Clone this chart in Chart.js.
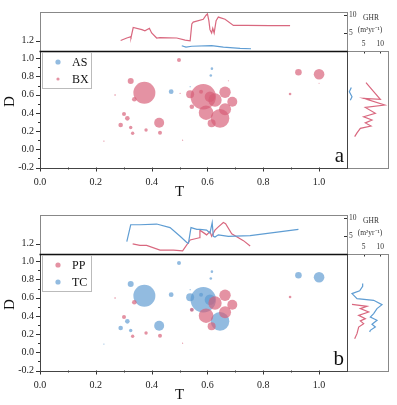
<!DOCTYPE html>
<html><head><meta charset="utf-8">
<script src="https://cdn.jsdelivr.net/npm/chart.js@4"></script>
<style>
html,body{margin:0;padding:0;background:#fff;width:397px;height:405px;overflow:hidden}
canvas{position:absolute;left:0}
</style></head><body>
<canvas id="aTop" width="397" height="200" style="top:0px"></canvas>
<canvas id="aRight" width="397" height="200" style="top:0px"></canvas>
<canvas id="aMain" width="397" height="200" style="top:0px"></canvas>
<canvas id="bTop" width="397" height="200" style="top:203px"></canvas>
<canvas id="bRight" width="397" height="200" style="top:203px"></canvas>
<canvas id="bMain" width="397" height="200" style="top:203px"></canvas>
<script>
// ---------- tick values ----------
const xTicks = [0, 0.2, 0.4, 0.6, 0.8, 1.0];
const xMinor = [0.1, 0.3, 0.5, 0.7, 0.9];
const yTicks = [-0.2, 0, 0.2, 0.4, 0.6, 0.8, 1.0];
const yMinor = [-0.1, 0.1, 0.3, 0.5, 0.7, 0.9];
const ghrTicks = [5, 10];
const topLeftTicks = [1.2];

// ---------- panel a : main bubbles ----------
const bxT = [0.374,0.325,0.338,0.269,0.301,0.313,0.289,0.325,0.380,0.332,0.427,0.430,0.229,0.498,0.585,0.538,0.577,0.609,0.627,0.663,0.689,0.663,0.595,0.645,0.615,0.544,0.511,0.926,1.000,0.896,1.000,0.502,0.675];
const bxD = [0.622,0.750,0.550,0.597,0.388,0.340,0.267,0.240,0.212,0.176,0.292,0.182,0.090,0.980,0.578,0.604,0.633,0.578,0.542,0.626,0.523,0.440,0.402,0.340,0.286,0.468,0.100,0.846,0.824,0.608,0.725,0.615,0.754];
const bxS = [11,3,2.3,0.8,2,2.3,2.3,1.7,1.7,1.7,5,2,0.7,2,12.7,4,2,5.3,6.7,5.7,5,6,7.3,9.3,4,2.3,0.6,3.3,5.3,1.3,0.5,0.6,0.5];
const asT = [0.470,0.616,0.612,0.538];
const asD = [0.633,0.886,0.810,0.688];
const asS = [2.4,1.3,1.3,0.6];

// ---------- panel b : main bubbles ----------
const ppT = [0.338,0.269,0.301,0.380,0.332,0.430,0.663,0.689,0.663,0.595,0.615,0.627,0.896,0.544,0.511];
const ppD = [0.550,0.597,0.388,0.212,0.176,0.182,0.626,0.523,0.440,0.402,0.286,0.542,0.608,0.468,0.100];
const ppS = [2.3,0.8,2,1.7,1.7,2,5.7,5,6,7.3,4,6.7,1.3,2,0.6];
const tcT = [0.374,0.325,0.470,0.313,0.289,0.325,0.427,0.229,0.498,0.616,0.612,0.585,0.538,0.577,0.609,0.645,0.926,1.000,0.538,0.544];
const tcD = [0.622,0.750,0.633,0.340,0.267,0.240,0.292,0.090,0.980,0.886,0.810,0.578,0.604,0.633,0.578,0.340,0.846,0.824,0.688,0.468];
const tcS = [11,3,2.4,2.3,2.3,1.7,5,0.6,2,1.3,1.3,12.7,4,2,5.3,9.3,3.3,5.3,0.6,1.5];

// ---------- top marginal: GHR along T ----------
const aTopBxT = [0.289,0.311,0.323,0.326,0.334,0.365,0.376,0.392,0.400,0.418,0.430,0.490,0.520,0.538,0.544,0.549,0.585,0.595,0.600,0.605,0.609,0.615,0.619,0.624,0.631,0.639,0.663,0.693,0.741,0.824,0.896];
const aTopBxG = [2.9,3.6,3.9,3.7,6.5,5.9,5.6,6.3,5.0,3.6,3.7,3.6,3.0,2.8,7.5,8.0,8.8,9.9,10.25,8.4,5.9,5.0,6.3,5.0,8.4,9.4,8.8,7.1,7.1,7.0,7.0];
const aTopAsT = [0.508,0.523,0.544,0.615,0.657,0.717,0.756];
const aTopAsG = [1.47,1.06,1.32,1.47,1.06,0.71,0.63];
const bTopTcT = [0.311,0.325,0.358,0.418,0.466,0.502,0.526,0.532,0.541,0.562,0.573,0.597,0.609,0.617,0.621,0.627,0.639,0.675,0.753,0.926];
const bTopTcG = [3.4,8.1,8.1,8.3,7.3,4.9,3.2,3.0,7.3,6.8,6.8,6.6,5.8,8.7,4.9,4.7,5.3,4.9,5.1,6.8];
const bTopPpT = [0.332,0.358,0.382,0.430,0.478,0.511,0.538,0.571,0.573,0.597,0.609,0.615,0.627,0.639,0.657,0.665,0.687,0.729,0.753];
const bTopPpG = [2.8,2.4,2.4,1.1,1.1,0.9,3.9,4.5,6.6,5.3,6.2,4.9,6.6,7.5,8.7,8.4,5.6,3.7,2.2];

// ---------- right marginal: GHR along D ----------
const aRightBxG = [5.7,8.0,10.0,5.0,11.3,5.5,8.5,5.0,7.5,5.5,7.2,4.0,3.0,2.3];
const aRightBxD = [0.732,0.633,0.549,0.560,0.487,0.460,0.396,0.358,0.322,0.290,0.256,0.230,0.180,0.140];
const aRightAsG = [1.3,0.7,1.5,1.0];
const aRightAsD = [0.680,0.633,0.578,0.540];
const bRightTcG = [4.7,4.7,3.8,1.5,3.0,8.0,10.5,9.0,8.0,7.0,9.0,7.5,8.5,7.0,6.8];
const bRightTcD = [0.755,0.725,0.675,0.645,0.590,0.571,0.524,0.480,0.425,0.388,0.352,0.308,0.278,0.242,0.223];
const bRightPpG = [1.5,6.0,4.0,6.5,3.5,5.5,4.0,5.0,3.5,3.0,2.3];
const bRightPpD = [0.527,0.505,0.480,0.443,0.406,0.370,0.344,0.315,0.278,0.205,0.150];

// ---------- styling ----------
const FONT = "'Liberation Serif','Times New Roman',serif";
const PINK_FILL = 'rgba(215,95,120,0.68)';
const BLUE_FILL = 'rgba(95,155,210,0.68)';
const PINK_LINE = '#d9687f';
const BLUE_LINE = '#5f9dd3';
const R_UNIT = 1;

const framePlugin = {
  id: 'frame',
  afterDatasetsDraw(chart, args, o) {
    const {ctx, chartArea: a} = chart;
    ctx.save();
    ctx.lineWidth = 1;
    (o.ticks || []).forEach(t => {
      const sc = chart.scales[t.scale];
      ctx.strokeStyle = t.color || '#333';
      ctx.beginPath();
      t.values.forEach(v => {
        const p = Math.round(sc.getPixelForValue(v)) + 0.5;
        if (t.side === 'bottom') { ctx.moveTo(p, a.bottom); ctx.lineTo(p, a.bottom + t.len); }
        else if (t.side === 'left') { ctx.moveTo(a.left, p); ctx.lineTo(a.left - t.len, p); }
        else if (t.side === 'rightIn') { ctx.moveTo(a.right, p); ctx.lineTo(a.right - t.len, p); }
        else if (t.side === 'topIn') { ctx.moveTo(p, a.top); ctx.lineTo(p, a.top + t.len); }
      });
      ctx.stroke();
    });
    if (o.box) {
      ctx.strokeStyle = o.box; ctx.lineWidth = 1;
      ctx.strokeRect(Math.round(a.left) + 0.5, Math.round(a.top) + 0.5, Math.round(a.right - a.left), Math.round(a.bottom - a.top));
    }
    if (o.topLine) {
      ctx.strokeStyle = o.topLine.color; ctx.lineWidth = o.topLine.width;
      ctx.beginPath(); ctx.moveTo(a.left - 0.5, Math.round(a.top) + 0.5); ctx.lineTo(a.right + 0.5, Math.round(a.top) + 0.5); ctx.stroke();
    }
    if (o.legend) {
      const L = o.legend;
      const bx = a.left + 2.5, by = a.top + 1.5;
      ctx.fillStyle = '#fff'; ctx.fillRect(bx, by, 49, 36);
      ctx.strokeStyle = '#bbb'; ctx.lineWidth = 1; ctx.strokeRect(bx, by, 49, 36);
      L.forEach((it, i) => {
        const cy = by + 9.5 + i * 17;
        ctx.fillStyle = it.color; ctx.beginPath(); ctx.arc(bx + 15.5, cy, it.r, 0, Math.PI * 2); ctx.fill();
        ctx.fillStyle = '#111'; ctx.font = '12px ' + FONT; ctx.textBaseline = 'middle'; ctx.textAlign = 'left';
        ctx.fillText(it.label, bx + 29.5, cy + 0.5);
      });
    }
    (o.texts || []).forEach(tx => {
      const [x, y] = tx.at(chart);
      ctx.save();
      ctx.translate(x, y);
      if (tx.rot) ctx.rotate(tx.rot);
      ctx.fillStyle = tx.color || '#111';
      ctx.font = tx.font;
      ctx.textAlign = tx.align || 'center';
      ctx.textBaseline = tx.baseline || 'middle';
      ctx.fillText(tx.text, 0, 0);
      ctx.restore();
    });
    ctx.restore();
  }
};

const common = {
  responsive: false, animation: false, events: [],
  plugins: {legend: {display: false}, tooltip: {enabled: false}}
};
const setTicks = vals => s => { s.ticks = vals.map(v => ({value: v})); };
const tickFont = size => ({family: FONT, size: size});

function bubbles(T, D, S) { return T.map((t, i) => ({x: t, y: D[i], r: S[i] * R_UNIT})); }
function pts(X, Y) { return X.map((x, i) => ({x: x, y: Y[i]})); }
function lineSet(data, color, yAxisID) {
  const d = {data: data, showLine: true, pointRadius: 0, borderColor: color, borderWidth: 1.2, tension: 0, fill: false};
  if (yAxisID) d.yAxisID = yAxisID;
  return d;
}

function mainChart(id, sets, legend, letter) {
  return new Chart(document.getElementById(id), {
    type: 'bubble',
    data: {datasets: sets.map(s => ({data: s.data, backgroundColor: s.color, borderWidth: 0}))},
    options: Object.assign({}, common, {
      layout: {padding: {left: 0, right: 50, top: 51, bottom: 0}},
      plugins: Object.assign({}, common.plugins, {
        frame: {
          box: '#444',
          topLine: {color: '#111', width: 1.6},
          ticks: [
            {scale: 'x', side: 'bottom', values: xTicks, len: 4},
            {scale: 'x', side: 'bottom', values: xMinor, len: 2},
            {scale: 'y', side: 'left', values: yTicks, len: 4},
            {scale: 'y', side: 'left', values: yMinor, len: 2}
          ],
          legend: legend,
          texts: [
            {text: letter, font: '21px ' + FONT, align: 'right', baseline: 'alphabetic', at: c => [c.chartArea.right - 3, c.chartArea.bottom - 6]},
            {text: 'T', font: '15px ' + FONT, at: c => [c.scales.x.getPixelForValue(0.5), c.chartArea.bottom + 24.5]},
            {text: 'D', font: '15px ' + FONT, rot: -Math.PI / 2, at: c => [10, c.scales.y.getPixelForValue(0.525)]}
          ]
        }
      }),
      scales: {
        x: {type: 'linear', min: 0, max: 1.1, afterBuildTicks: setTicks(xTicks), afterFit: s => { s.height = 32.5; },
            grid: {display: false, drawTicks: false}, border: {display: false},
            ticks: {padding: 8.5, font: tickFont(10), color: '#222', maxRotation: 0, autoSkip: false, callback: v => v.toFixed(1)}},
        y: {type: 'linear', min: -0.2, max: 1.08, afterBuildTicks: setTicks(yTicks), afterFit: s => { s.width = 40; },
            grid: {display: false, drawTicks: false}, border: {display: false},
            ticks: {padding: 6, font: tickFont(10), color: '#222', autoSkip: false, callback: v => v.toFixed(1)}}
      }
    }),
    plugins: [framePlugin]
  });
}

function topChart(id, sets) {
  return new Chart(document.getElementById(id), {
    type: 'scatter',
    data: {datasets: sets.map(s => lineSet(s.data, s.color, 'yR'))},
    options: Object.assign({}, common, {
      layout: {padding: {left: 0, right: 0, top: 8.3, bottom: 149}},
      plugins: Object.assign({}, common.plugins, {
        frame: {
          box: '#888',
          ticks: [
            {scale: 'yL', side: 'left', values: topLeftTicks, len: 4},
            {scale: 'yR', side: 'rightIn', values: ghrTicks, len: 3}
          ]
        }
      }),
      scales: {
        x: {type: 'linear', display: false, min: 0, max: 1.1},
        yL: {type: 'linear', position: 'left', min: 1.1, max: 1.48, afterBuildTicks: setTicks(topLeftTicks), afterFit: s => { s.width = 40; },
             grid: {display: false, drawTicks: false}, border: {display: false},
             ticks: {padding: 6, font: tickFont(10), color: '#222', callback: v => v.toFixed(1)}},
        yR: {type: 'linear', position: 'right', min: 0, max: 10.8, afterBuildTicks: setTicks(ghrTicks), afterFit: s => { s.width = 50; },
             grid: {display: false, drawTicks: false}, border: {display: false},
             ticks: {padding: 2, font: tickFont(7.5), color: '#333'}}
      }
    }),
    plugins: [framePlugin]
  });
}

function rightChart(id, sets) {
  return new Chart(document.getElementById(id), {
    type: 'scatter',
    data: {datasets: sets.map(s => lineSet(s.data, s.color))},
    options: Object.assign({}, common, {
      layout: {padding: {left: 347, right: 9, top: 39, bottom: 32.5}},
      plugins: Object.assign({}, common.plugins, {
        frame: {
          box: '#888',
          ticks: [{scale: 'x', side: 'topIn', values: ghrTicks, len: 2.5}],
          texts: [
            {text: 'GHR', font: '7.5px ' + FONT, color: '#333', at: c => [c.chartArea.left + 24, c.chartArea.top - 32.5]},
            {text: '(m\u00B2yr\u207B\u00B9)', font: '7.5px ' + FONT, color: '#333', at: c => [c.chartArea.left + 23, c.chartArea.top - 21]}
          ]
        }
      }),
      scales: {
        x: {type: 'linear', position: 'top', min: 0, max: 12.3, afterBuildTicks: setTicks(ghrTicks), afterFit: s => { s.height = 12; },
            grid: {display: false, drawTicks: false}, border: {display: false},
            ticks: {padding: 2, font: tickFont(7.5), color: '#333', maxRotation: 0}},
        y: {type: 'linear', display: false, min: -0.2, max: 1.08}
      }
    }),
    plugins: [framePlugin]
  });
}

// ---------- panel a ----------
topChart('aTop', [
  {data: pts(aTopBxT, aTopBxG), color: PINK_LINE},
  {data: pts(aTopAsT, aTopAsG), color: BLUE_LINE}
]);
rightChart('aRight', [
  {data: pts(aRightBxG, aRightBxD), color: PINK_LINE},
  {data: pts(aRightAsG, aRightAsD), color: BLUE_LINE}
]);
mainChart('aMain', [
  {data: bubbles(bxT, bxD, bxS), color: PINK_FILL},
  {data: bubbles(asT, asD, asS), color: BLUE_FILL}
], [{label: 'AS', color: BLUE_FILL, r: 2.6}, {label: 'BX', color: PINK_FILL, r: 1.6}], 'a');

// ---------- panel b ----------
topChart('bTop', [
  {data: pts(bTopTcT, bTopTcG), color: BLUE_LINE},
  {data: pts(bTopPpT, bTopPpG), color: PINK_LINE}
]);
rightChart('bRight', [
  {data: pts(bRightTcG, bRightTcD), color: BLUE_LINE},
  {data: pts(bRightPpG, bRightPpD), color: PINK_LINE}
]);
mainChart('bMain', [
  {data: bubbles(ppT, ppD, ppS), color: PINK_FILL},
  {data: bubbles(tcT, tcD, tcS), color: BLUE_FILL}
], [{label: 'PP', color: PINK_FILL, r: 2.6}, {label: 'TC', color: BLUE_FILL, r: 2.6}], 'b');
</script>
</body></html>
